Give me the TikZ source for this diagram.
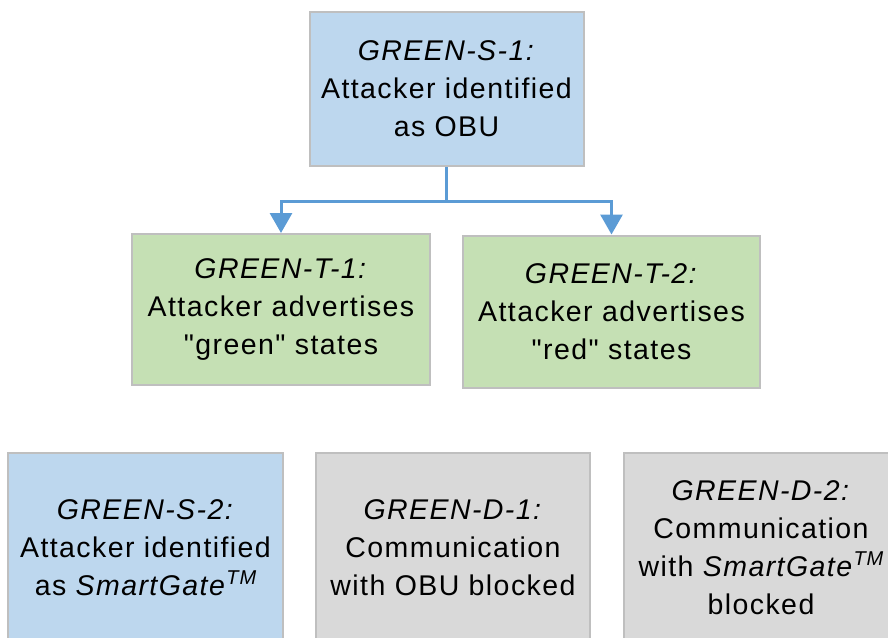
\documentclass[tikz,border=0pt]{standalone}
\usepackage{fontspec}
\setmainfont[LetterSpace=5,Ligatures=TeXOff]{Liberation Sans}
\usetikzlibrary{arrows.meta}
\definecolor{boxblue}{HTML}{BDD7EE}
\definecolor{boxgreen}{HTML}{C5E0B4}
\definecolor{boxgray}{HTML}{D9D9D9}
\definecolor{edgegray}{HTML}{BFBFBF}
\definecolor{linkblue}{HTML}{5B9BD5}
\newcommand{\tm}{\raisebox{11pt}{\fontsize{20}{20}\selectfont\itshape TM}}
\tikzset{
  card/.style={draw=edgegray, line width=2pt, inner sep=0pt, align=center,
    font=\fontsize{28.5}{38}\selectfont},
  bluecard/.style={card, fill=boxblue},
  greencard/.style={card, fill=boxgreen},
  graycard/.style={card, fill=boxgray},
  link/.style={draw=linkblue, line width=3pt,
    -{Triangle[width=22pt,length=20pt]}},
}
\begin{document}
\begin{tikzpicture}[x=1pt,y=-1pt]
\useasboundingbox (0,0) rectangle (888,637);
\clip (0,0) rectangle (888,637);
% top level
\node[bluecard, minimum width=274pt, minimum height=154pt] (s1) at (446.5,89)
  {\textit{GREEN-S-1:}\\Attacker identified\\as OBU};
% second level
\node[greencard, minimum width=298pt, minimum height=151pt] (t1) at (281,309.5)
  {\textit{GREEN-T-1:}\\Attacker advertises\\"green" states};
\node[greencard, minimum width=297pt, minimum height=152pt] (t2) at (611.5,311.5)
  {\textit{GREEN-T-2:}\\Attacker advertises\\"red" states};
% bottom row
\node[bluecard, minimum width=275pt, minimum height=190pt] (s2) at (145.5,548)
  {\textit{GREEN-S-2:}\\Attacker identified\\as \textit{SmartGate}\tm};
\node[graycard, minimum width=274pt, minimum height=190pt] (d1) at (453,548)
  {\textit{GREEN-D-1:}\\Communication\\with OBU blocked};
\node[graycard, minimum width=274pt, minimum height=190pt] (d2) at (761,548)
  {\textit{GREEN-D-2:}\\Communication\\with \textit{SmartGate}\tm\\blocked};
% connectors
\draw[link] (s1.south) -- ++(0,34) -| (t1.north);
\draw[link] (s1.south) -- ++(0,34) -| (t2.north);
\end{tikzpicture}
\end{document}
